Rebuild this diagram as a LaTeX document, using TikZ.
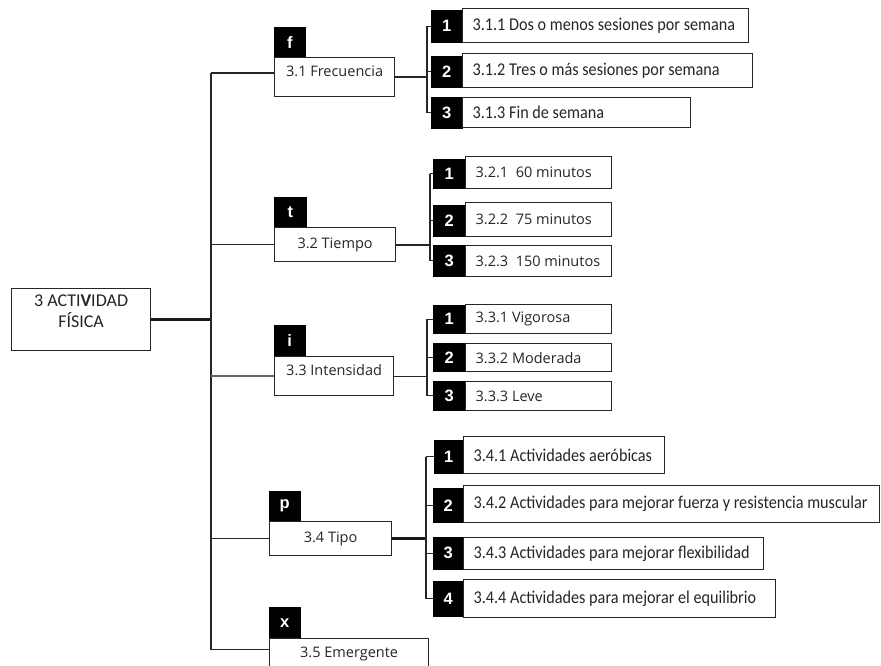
\documentclass[tikz,border=0pt]{standalone}
\usepackage{fontspec}
\newfontfamily\calf[FakeStretch=0.9]{Carlito}
\newfontfamily\calr{Carlito}
\newfontfamily\tahf{Open Sans}
\newfontfamily\tabf{Liberation Sans}
\newcommand\myleft[2]{\hbox to #1pt{#2\hss}}
\tikzset{
 lvbox/.style={draw=black!85, line width=1.2pt, fill=white, anchor=north west, inner sep=0pt, font=\tahf\fontsize{14.5}{16}\selectfont, text=black!85},
 chbox/.style={draw=black!85, line width=1.3pt, fill=white, anchor=north west, inner xsep=10pt, inner ysep=0pt, text=black!85},
 cal/.style={font=\calf\fontsize{18}{20}\selectfont},
 tah/.style={font=\tahf\fontsize{14.5}{16}\selectfont},
 tabbox/.style={fill=black, draw=black, line width=0.5pt, anchor=north west, inner sep=0pt, text=white, font=\tabf\bfseries\fontsize{16.5}{16.5}\selectfont},
 conn/.style={draw=black!85, line width=1.2pt},
 thickconn/.style={draw=black!90, line width=2.6pt},
}
\begin{document}
\begin{tikzpicture}[x=1pt,y=-1pt]
\useasboundingbox (0,0) rectangle (881,666);
\clip (0,0) rectangle (881,666);
\fill[white] (0,0) rectangle (881,666);
% root
\node[lvbox, minimum width=139, minimum height=62, align=center, text depth=16pt, font=\calr\fontsize{18}{21}\selectfont] (root) at (11,288) {3 ACTI\textbf{V}IDAD\\FÍSICA};
\coordinate (tr) at (211,0);
% level 2
\node[tabbox, minimum width=31, minimum height=30] (ft) at (274,27) {f};
\node[lvbox, minimum width=120, minimum height=39, text depth=12pt] (f) at (274,57) {3.1 Frecuencia};
\node[tabbox, minimum width=32, minimum height=30] (tt) at (274,197) {t};
\node[lvbox, minimum width=121, minimum height=34] (t) at (274,227) {3.2 Tiempo};
\node[tabbox, minimum width=31, minimum height=31] (it) at (274,325) {i};
\node[lvbox, minimum width=119, minimum height=39, text depth=12pt] (i) at (274,356) {3.3 Intensidad};
\node[tabbox, minimum width=31, minimum height=30] (pt) at (269,491) {p};
\node[lvbox, minimum width=122, minimum height=34] (p) at (269,521) {3.4 Tipo};
\node[tabbox, minimum width=31, minimum height=31] (xt) at (269,607) {x};
\node[lvbox, minimum width=159, minimum height=30] (x) at (269,638) {3.5 Emergente};
% frecuencia children
\node[tabbox, minimum width=31, minimum height=32] (f1t) at (431,10) {1};
\node[chbox, cal, minimum height=34] (f1) at (462,8) {\myleft{266}{3.1.1 Dos o menos sesiones por semana}};
\node[tabbox, minimum width=31, minimum height=31] (f2t) at (431,56) {2};
\node[chbox, cal, minimum height=34] (f2) at (462,53) {\myleft{270}{3.1.2 Tres o más sesiones por semana}};
\node[tabbox, minimum width=31, minimum height=31] (f3t) at (431,97) {3};
\node[chbox, cal, minimum height=30] (f3) at (462,97) {\myleft{208}{3.1.3 Fin de semana}};
% tiempo children
\node[tabbox, minimum width=32, minimum height=29] (t1t) at (433,159) {1};
\node[chbox, tah, minimum height=32] (t1) at (465,156) {\myleft{126}{3.2.1\ \ 60 minutos}};
\node[tabbox, minimum width=32, minimum height=31] (t2t) at (433,205) {2};
\node[chbox, tah, minimum height=34] (t2) at (465,202) {\myleft{126}{3.2.2\ \ 75 minutos}};
\node[tabbox, minimum width=32, minimum height=31] (t3t) at (433,245) {3};
\node[chbox, tah, minimum height=31] (t3) at (465,245) {\myleft{126}{3.2.3\ \ 150 minutos}};
% intensidad children
\node[tabbox, minimum width=32, minimum height=28] (i1t) at (433,305) {1};
\node[chbox, tah, minimum height=29] (i1) at (465,304) {\myleft{126}{3.3.1 Vigorosa}};
\node[tabbox, minimum width=32, minimum height=28] (i2t) at (433,343) {2};
\node[chbox, tah, minimum height=28] (i2) at (465,343) {\myleft{126}{3.3.2 Moderada}};
\node[tabbox, minimum width=32, minimum height=29] (i3t) at (433,381) {3};
\node[chbox, tah, minimum height=29] (i3) at (465,381) {\myleft{126}{3.3.3 Leve}};
% tipo children
\node[tabbox, minimum width=29, minimum height=33] (p1t) at (434,440) {1};
\node[chbox, cal, minimum height=37] (p1) at (463,436) {\myleft{181}{3.4.1 Actividades aeróbicas}};
\node[tabbox, minimum width=30, minimum height=34] (p2t) at (433,488) {2};
\node[chbox, cal, minimum height=37] (p2) at (463,485) {\myleft{396}{3.4.2 Actividades para mejorar fuerza y resistencia muscular}};
\node[tabbox, minimum width=30, minimum height=32] (p3t) at (433,537) {3};
\node[chbox, cal, minimum height=32] (p3) at (463,537) {\myleft{280}{3.4.3 Actividades para mejorar flexibilidad}};
\node[tabbox, minimum width=30, minimum height=35] (p4t) at (433,581) {4};
\node[chbox, cal, minimum height=38] (p4) at (463,579) {\myleft{292}{3.4.4 Actividades para mejorar el equilibrio}};
% trunk connectors
\draw[thickconn] (root.east) -- (root.east -| tr);
\draw[conn] ([yshift=4pt]f.west -| tr) -- ([yshift=4pt]x.west -| tr);
\draw[conn] ([yshift=4pt]f.west -| tr) -- ([yshift=4pt]f.west);
\draw[conn] (t.west -| tr) -- (t.west);
\draw[conn, draw=black!60, line width=1.8pt] (i.west -| tr) -- (i.west);
\draw[conn] (p.west -| tr) -- (p.west);
\draw[conn] ([yshift=4pt]x.west -| tr) -- ([yshift=4pt]x.west);
% frecuencia bracket
\coordinate (fb) at (427,0);
\draw[conn] (f.east) -- (f.east -| fb);
\draw[conn] (f1t.west -| fb) -- (f3t.west -| fb);
\draw[conn] (f1t.west -| fb) -- (f1t.west);
\draw[conn] (f2t.west -| fb) -- (f2t.west);
\draw[conn] (f3t.west -| fb) -- (f3t.west);
% tiempo bracket
\coordinate (tb) at (430,0);
\draw[conn, line width=1.8pt] (t.east) -- (t.east -| tb);
\draw[conn] (t1t.west -| tb) -- (t3t.west -| tb);
\draw[conn] (t1t.west -| tb) -- (t1t.west);
\draw[conn] (t2t.west -| tb) -- (t2t.west);
\draw[conn] (t3t.west -| tb) -- (t3t.west);
% intensidad bracket
\coordinate (ib) at (427,0);
\draw[conn] (i.east) -- (i.east -| ib);
\draw[conn] (i1t.west -| ib) -- (i3t.west -| ib);
\draw[conn] (i1t.west -| ib) -- (i1t.west);
\draw[conn] (i2t.west -| ib) -- (i2t.west);
\draw[conn] (i3t.west -| ib) -- (i3t.west);
% tipo bracket
\coordinate (pb) at (426,0);
\draw[thickconn] (p.east) -- (p.east -| pb);
\draw[conn] (p1t.west -| pb) -- (p4t.west -| pb);
\draw[conn] (p1t.west -| pb) -- (p1t.west);
\draw[conn] (p2t.west -| pb) -- (p2t.west);
\draw[conn] (p3t.west -| pb) -- (p3t.west);
\draw[conn] (p4t.west -| pb) -- (p4t.west);
\end{tikzpicture}
\end{document}
